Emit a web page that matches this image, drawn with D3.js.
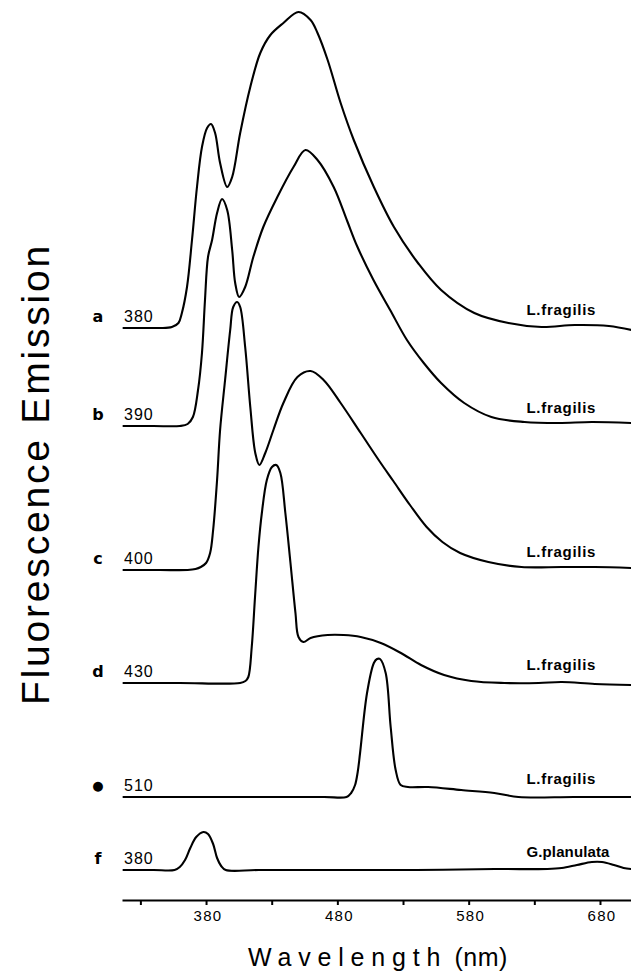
<!DOCTYPE html>
<html>
<head>
<meta charset="utf-8">
<script src="https://cdn.jsdelivr.net/npm/d3@7"></script>
<style>
  html, body { margin: 0; padding: 0; background: #fff; }
  svg { display: block; }
</style>
</head>
<body>
<div id="chart"></div>
<script>
// ---- Data (wavelength nm, relative emission intensity) ----
const specA = [[316.5,0],[335,0],[344.8,0],[354,1],[359,5],[361.6,15],[365.5,41],[369.3,88],[373.1,141],[376.9,181],[380.8,200],[383.8,204],[386.9,195],[390.7,165],[396.1,141],[399.9,151],[406,195],[413.7,241],[421.3,275],[429,293],[438.9,305],[450.4,316],[459.6,308],[464.9,295],[472.6,268],[482.5,225],[492.5,188],[507.8,141],[523.1,101],[541.4,65],[559,38],[584.3,15],[610.3,5],[635.5,1],[660.8,3],[686.8,2],[704,-2]];
const specB = [[316.5,0],[340,0],[360.1,0],[366,2],[370,9],[373.9,36],[376.9,73],[379.2,126],[381.5,169],[384.6,186],[388.4,213],[392.2,227],[396.1,216],[399.9,176],[402.2,143],[405.2,129],[409.8,139],[416,169],[423.6,199],[434.3,229],[446.6,259],[455.7,276],[464.9,266],[477.2,239],[487.5,205],[495,180],[507.5,146],[520.2,116],[533,86],[545.8,63],[559,43],[576.6,23],[597.3,9],[622.5,4],[648.5,3],[673.8,4],[704,3]];
const specC = [[316.5,0],[345,0],[366,0],[372,1],[376,3],[380,7],[383.1,17],[385.4,40],[388.4,90],[390.7,140],[394.5,190],[398.4,240],[400.7,263],[403.7,268],[406,263],[409.8,223],[413.7,163],[417.5,117],[420.6,105],[425.1,117],[431.3,140],[438.9,167],[449.6,193],[459.6,199],[469.5,190],[482.5,167],[497.8,137],[512.5,108],[522.6,89],[535.3,65],[548,43],[560,28],[573.5,17],[595,8],[620.2,3],[650.9,3],[676.1,3],[704,2]];
const specD = [[316.5,0],[360,0],[406,0],[410,2],[412.2,6],[414.8,36],[417.3,86],[419.9,136],[422.5,170],[426.3,203],[430.2,216],[433.5,218],[436.6,210],[440.4,170],[444.3,120],[448.1,70],[450.4,46],[454.2,41],[459.6,45],[472.6,48],[484.8,48],[497.8,46],[513.1,40],[528.4,30],[543.7,18],[561.3,8],[582,2],[607.2,0],[633.3,0],[650.9,1],[676.1,-1],[704,-2]];
const specE = [[316.5,0],[360,0],[420,0],[470,0],[487,0],[490.5,4],[493.5,12],[495.5,25],[497.3,44],[502.6,104],[507.8,134],[510.2,138],[512.5,138],[516.8,124],[520.6,70],[524.4,27],[528.2,12],[533.8,10],[549.1,10],[574.3,7],[599.5,4],[617.9,0],[660,0],[704,0]];
const specF = [[316.5,0],[340,0],[356,0],[360,3],[364,10],[368,22],[372.5,33],[378,38],[381.5,36],[385.4,26],[388.4,12],[391.5,4],[395,0],[420,0],[480,0],[540,0],[600,1],[640,1],[650.9,2],[662.4,5],[673.8,8],[681.5,8],[690.6,5],[698,2],[704,1]];

const spectra   = [specA, specB, specC, specD, specE, specF];
const offsets   = [542, 444, 300, 187, 73, 0];          // vertical stacking offsets (same units)
const letters   = ["a", "b", "c", "d", "\u25CF", "f"];
const excite    = ["380", "390", "400", "430", "510", "380"];
const species   = ["L.fragilis", "L.fragilis", "L.fragilis", "L.fragilis", "L.fragilis", "G.planulata"];
const tickValues = [330, 380, 430, 480, 530, 580, 630, 680];
const tickLabels = [380, 480, 580, 680];

// ---- Layout ----
const W = 631, H = 972;
const svg = d3.select("#chart").append("svg").attr("width", W).attr("height", H);

const x = d3.scaleLinear().domain([316, 704]).range([122, 631.5]);
const y = d3.scaleLinear().domain([0, 870]).range([870, 0]);

const line = d3.line()
  .x(d => x(d[0]))
  .y(d => y(d[1]))
  .curve(d3.curveCatmullRom.alpha(0.5));

const g = svg.append("g");

spectra.forEach((s, i) => {
  const off = offsets[i];
  g.append("path")
    .datum(s.map(p => [p[0], p[1] + off]))
    .attr("d", line)
    .attr("fill", "none")
    .attr("stroke", "#000")
    .attr("stroke-width", 2.1)
    .attr("stroke-linejoin", "round");

  const by = y(off);
  g.append("text")
    .attr("x", 98).attr("y", i === 4 ? by - 7 : by - 6)
    .attr("text-anchor", "middle")
    .attr("font-family", "DejaVu Sans, Liberation Sans, sans-serif")
    .attr("font-weight", "bold")
    .attr("font-size", i === 4 ? 13 : 16)
    .text(letters[i]);

  g.append("text")
    .attr("x", 124).attr("y", by - 6)
    .attr("font-family", "Liberation Sans, Arial, sans-serif")
    .attr("font-size", 16)
    .attr("letter-spacing", 1)
    .text(excite[i]);

  g.append("text")
    .attr("x", x(624)).attr("y", by - 13)
    .attr("font-family", "Liberation Sans, Arial, sans-serif")
    .attr("font-weight", "bold")
    .attr("font-size", 15)
    .attr("textLength", species[i].length > 10 ? 83 : 69)
    .attr("lengthAdjust", "spacing")
    .text(species[i]);
});

// ---- X axis ----
const axis = d3.axisBottom(x)
  .tickValues(tickValues)
  .tickSize(5)
  .tickSizeOuter(0)
  .tickFormat(d => tickLabels.includes(d) ? d : "");

const ax = svg.append("g").attr("transform", "translate(0,900)").call(axis);
ax.select(".domain").attr("stroke", "#000").attr("stroke-width", 2.2);
ax.selectAll(".tick line").attr("stroke", "#000").attr("stroke-width", 2);
ax.selectAll(".tick text")
  .attr("y", 10)
  .attr("dy", "0.71em")
  .attr("font-family", "Liberation Sans, Arial, sans-serif")
  .attr("font-size", 15)
  .attr("letter-spacing", 1.3)
  .attr("dx", 1.5)
  .attr("fill", "#000");

// ---- Axis titles ----
const xt = svg.append("text")
  .attr("x", 248).attr("y", 966)
  .attr("font-family", "Liberation Sans, Arial, sans-serif")
  .attr("font-size", 25)
  .attr("fill", "#000");
xt.append("tspan").attr("letter-spacing", 6.8).text("Wavelength");
xt.append("tspan").attr("letter-spacing", 0.5).text(" (nm)");

svg.append("text")
  .attr("transform", "translate(49,474) rotate(-90)")
  .attr("text-anchor", "middle")
  .attr("font-family", "Liberation Sans, Arial, sans-serif")
  .attr("font-size", 39)
  .attr("letter-spacing", 2.8)
  .attr("fill", "#000")
  .text("Fluorescence Emission");
</script>
</body>
</html>
